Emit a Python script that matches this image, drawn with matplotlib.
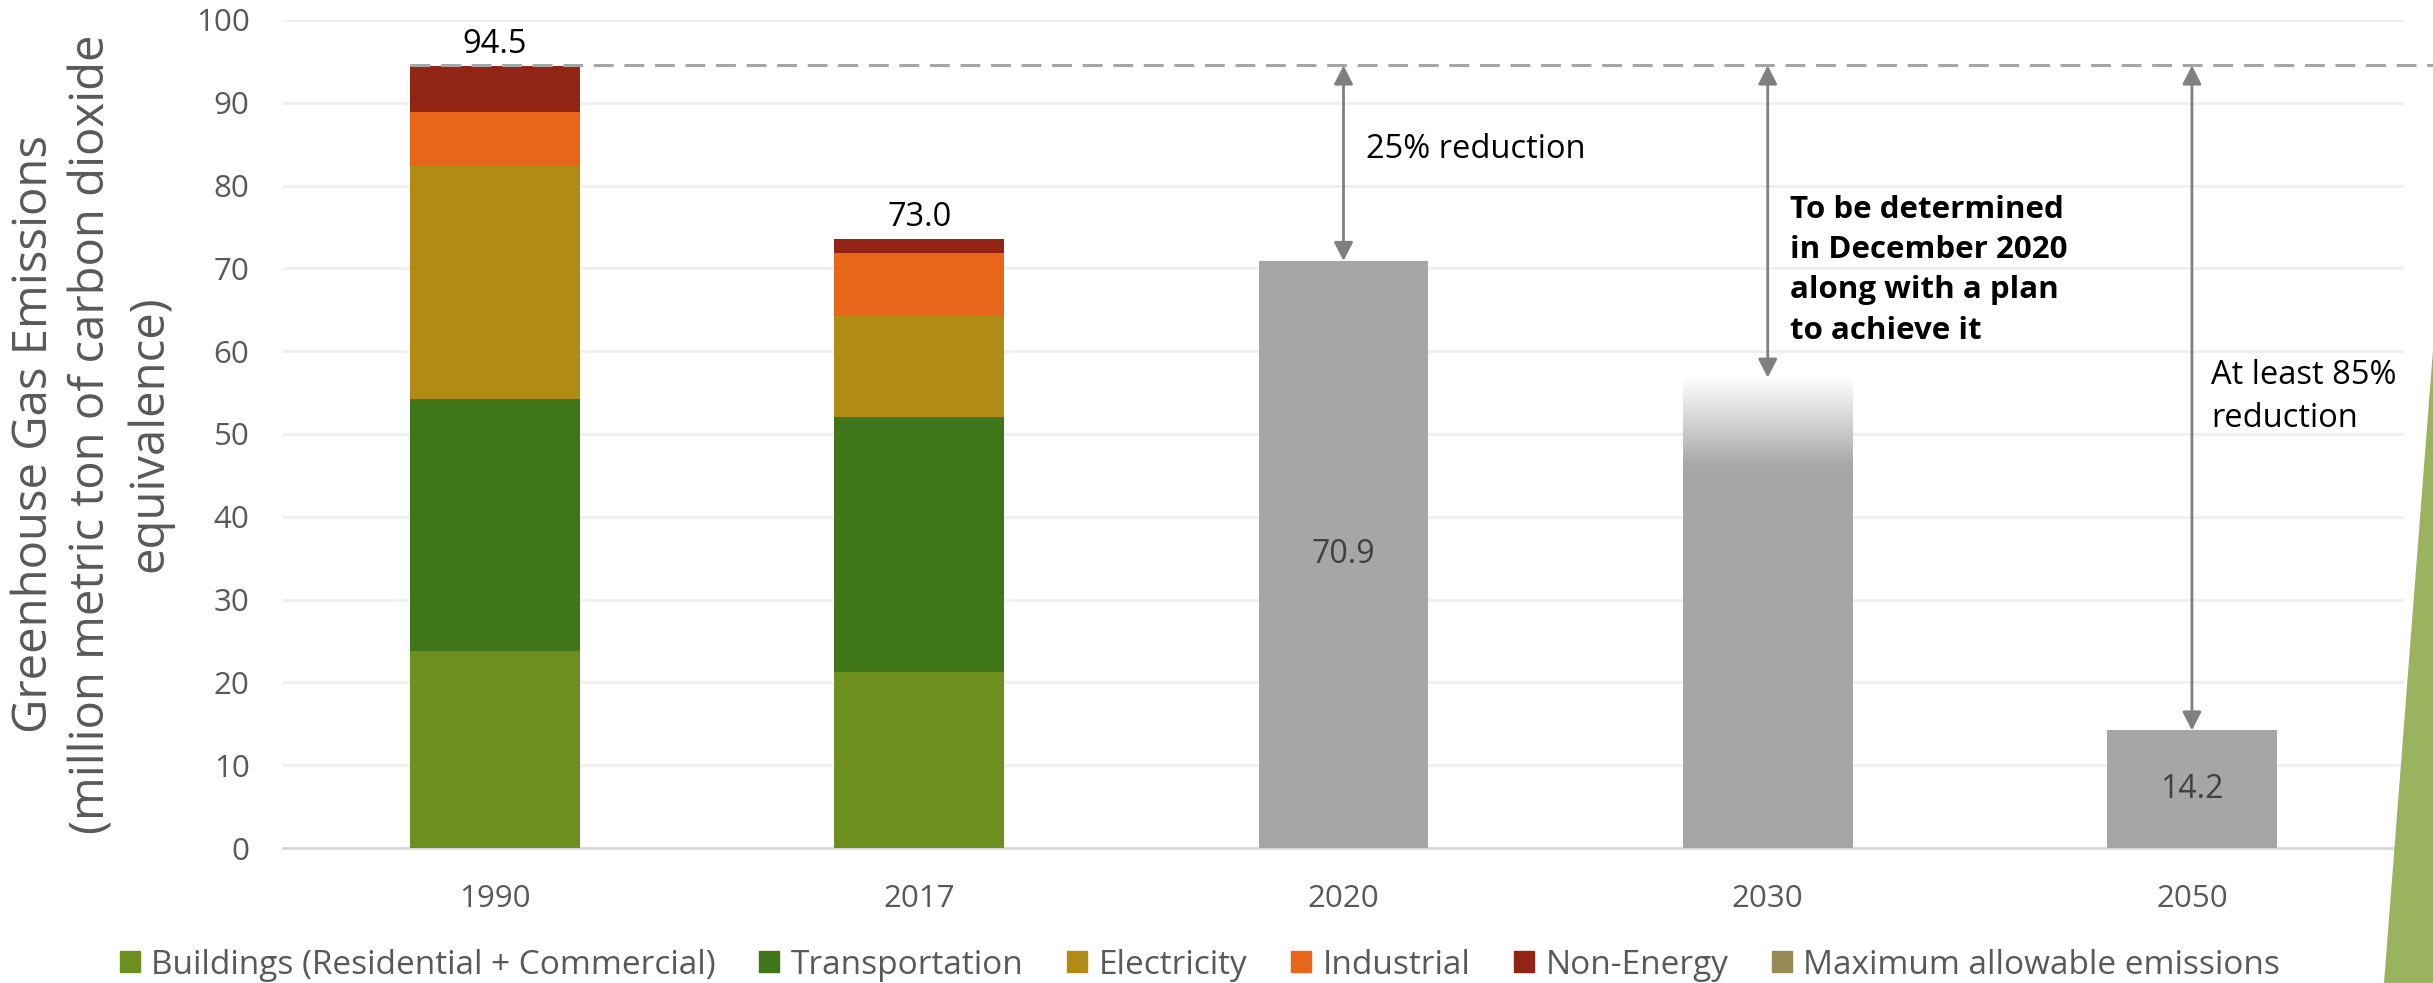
import numpy as np
import matplotlib
matplotlib.use('agg')
import matplotlib.pyplot as plt
from matplotlib.patches import Patch, Polygon

plt.rcParams['font.family'] = ['Open Sans', 'DejaVu Sans']

# data
hist_years = ['1990', '2017']
sectors = ['Buildings (Residential + Commercial)', 'Transportation', 'Electricity', 'Industrial', 'Non-Energy']
sector_colors = ['#6d8f1f', '#3f761a', '#b08c14', '#e8661a', '#922416']
buildings = [23.8, 21.3]
transportation = [30.4, 30.8]
electricity = [28.2, 12.2]
industrial = [6.5, 7.5]
non_energy = [5.5, 1.7]
hist_totals_label = ['94.5', '73.0']

target_years = ['2020', '2030', '2050']
target_values = [70.9, 56.8, 14.2]
target_fade_start = 46.0          # 2030 bar fades out above this value
baseline_1990 = 94.5
reduction_texts = ['25% reduction',
                   'To be determined\nin December 2020\nalong with a plan\nto achieve it',
                   'At least 85%\nreduction']

categories = hist_years + target_years
yticks = [0, 10, 20, 30, 40, 50, 60, 70, 80, 90, 100]

GRAY_TXT = '#595959'
BAR_GRAY = '#a6a6a6'

fig = plt.figure(figsize=(24.33, 9.83), dpi=100)
ax = fig.add_axes([0.1163, 0.1373, 0.8718, 0.8424])

x = np.arange(len(categories))
w = 0.4

# stacked historical bars
stack = np.array([buildings, transportation, electricity, industrial, non_energy])
bottoms = np.vstack([np.zeros(len(hist_years)), np.cumsum(stack, axis=0)[:-1]])
for i in range(len(sectors)):
    ax.bar(x[:2], stack[i], w, bottom=bottoms[i], color=sector_colors[i], zorder=3)
tops = stack.sum(axis=0)
for xi, top, lab in zip(x[:2], tops, hist_totals_label):
    ax.text(xi, top + 2.6, lab, ha='center', va='center', fontsize=23.5, color='black', zorder=5)

# target bars
tx = x[2:]
ax.bar(tx[0], target_values[0], w, color=BAR_GRAY, zorder=3)
ax.bar(tx[1], target_fade_start, w, color=BAR_GRAY, zorder=3)
ax.bar(tx[2], target_values[2], w, color=BAR_GRAY, zorder=3)

# gradient top for 2030
grad = np.linspace(0, 1, 256).reshape(-1, 1)
g0 = np.array([0xa6, 0xa6, 0xa6]) / 255
rgb = g0 + (1 - g0) * grad[..., None] * np.ones((1, 1, 3))
ax.imshow(rgb, extent=(tx[1] - w / 2, tx[1] + w / 2, target_fade_start, target_values[1]),
          origin='lower', aspect='auto', zorder=3, interpolation='bilinear')

ax.text(tx[0], target_values[0] / 2, f'{target_values[0]:.1f}', ha='center', va='center',
        fontsize=23, color='#404040', zorder=5)
ax.text(tx[2], target_values[2] / 2, f'{target_values[2]:.1f}', ha='center', va='center',
        fontsize=23, color='#404040', zorder=5)

# 1990 level dashed line, running to the figure edge
ax.plot([x[0] - w / 2, len(categories) - 0.5 + 0.15], [baseline_1990, baseline_1990],
        color='#a6a6a6', lw=2.2, dashes=(6.5, 3.5), zorder=4, clip_on=False)

# reduction arrows
for xi, v in zip(tx, target_values):
    ax.annotate('', xy=(xi, v), xytext=(xi, baseline_1990),
                arrowprops=dict(arrowstyle='<|-|>,head_length=0.45,head_width=0.23',
                                mutation_scale=25, color='#808080', lw=2,
                                shrinkA=0, shrinkB=0), zorder=5)

ax.text(2.054, 84.4, reduction_texts[0], ha='left', va='center', fontsize=23.5, color='black')
ax.text(3.052, 69.8, reduction_texts[1], ha='left', va='center', fontsize=22.5,
        fontweight='bold', color='black', linespacing=1.45)
ax.text(4.045, 54.5, reduction_texts[2], ha='left', va='center', fontsize=23.5,
        color='black', linespacing=1.4)

# axes styling
ax.set_xlim(-0.5, len(categories) - 0.5)
ax.set_ylim(0, 100)
ax.set_yticks(yticks)
ax.set_xticks(x)
ax.set_xticklabels(categories)
ax.tick_params(axis='both', length=0, labelsize=22.5, colors=GRAY_TXT)
ax.tick_params(axis='y', pad=24)
ax.tick_params(axis='x', pad=26)
ax.grid(axis='y', color='#f0f0f0', lw=2.2, zorder=0)
ax.set_axisbelow(True)
for s in ['top', 'right', 'left']:
    ax.spines[s].set_visible(False)
ax.spines['bottom'].set_color('#d9d9d9')
ax.spines['bottom'].set_linewidth(2)

fig.text(92 / 2433, 0.5585,
         'Greenhouse Gas Emissions\n(million metric ton of carbon dioxide\nequivalence)',
         rotation=90, ha='center', va='center', multialignment='center',
         fontsize=34, color=GRAY_TXT, linespacing=1.28)

# legend
handles = [Patch(color=c, label=s) for c, s in zip(sector_colors, sectors)]
handles.append(Patch(color='#948a54', label='Maximum allowable emissions'))
fig.legend(handles=handles, loc='center', bbox_to_anchor=(1200 / 2433, 1 - 965 / 983),
           ncol=6, frameon=False, fontsize=24, handlelength=0.6, handleheight=0.6,
           handletextpad=0.35, columnspacing=1.3, labelcolor=GRAY_TXT)

# slide decoration at the right edge
fig.patches.append(Polygon([(1.0, 1 - 350 / 983), (1.0, 0.0), (2384 / 2433, 0.0)],
                           closed=True, transform=fig.transFigure, facecolor='#9bb35f',
                           edgecolor='none', zorder=10))

fig.savefig('out.png', dpi=100)
